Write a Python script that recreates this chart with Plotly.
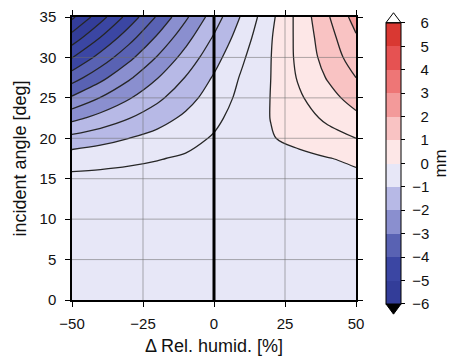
import plotly.graph_objects as go

# Data
delta_rh = [-50, -40, -30, -20, -10, 0, 10, 20, 30, 40, 50]          # Δ Rel. humid. [%]
incident_angle = [0, 5, 10, 12.5, 15, 17.5, 20, 22.5, 25, 27.5, 30, 32.5, 35]  # deg

# displacement [mm] per incident-angle row (columns follow delta_rh)
row_00_0 = [-0.24, -0.23, -0.22, -0.21, -0.20, -0.20, -0.19, -0.18, -0.17, -0.16, -0.15]
row_05_0 = [-0.25, -0.24, -0.23, -0.22, -0.21, -0.20, -0.19, -0.18, -0.17, -0.16, -0.15]
row_10_0 = [-0.28, -0.27, -0.26, -0.25, -0.235, -0.22, -0.21, -0.195, -0.18, -0.165, -0.15]
row_12_5 = [-0.32, -0.31, -0.30, -0.29, -0.27, -0.25, -0.23, -0.21, -0.19, -0.165, -0.14]
row_15_0 = [-0.38, -0.37, -0.35, -0.33, -0.315, -0.30, -0.28, -0.25, -0.21, -0.16, -0.10]
row_17_5 = [-0.72, -0.658, -0.592, -0.522, -0.448, -0.37, -0.288, -0.202, -0.112, -0.018, 0.08]
row_20_0 = [-1.35, -1.178, -1.002, -0.824, -0.644, -0.46, -0.274, -0.03, 0.13, 0.32, 0.50]
row_22_5 = [-2.14, -1.827, -1.517, -1.209, -0.903, -0.60, -0.299, 0.01, 0.295, 0.589, 0.88]
row_25_0 = [-2.93, -2.483, -2.043, -1.611, -1.187, -0.77, -0.361, 0.01, 0.435, 0.821, 1.20]
row_27_5 = [-3.73, -3.148, -2.578, -2.022, -1.48, -0.95, -0.434, 0.0, 0.56, 1.036, 1.50]
row_30_0 = [-4.52, -3.819, -3.135, -2.467, -1.815, -1.18, -0.561, -0.01, 0.627, 1.197, 1.75]
row_32_5 = [-5.31, -4.501, -3.711, -2.939, -2.185, -1.45, -0.733, -0.04, 0.645, 1.307, 1.95]
row_35_0 = [-6.10, -5.198, -4.312, -3.442, -2.588, -1.75, -0.928, -0.122, 0.668, 1.442, 2.20]

z = [row_00_0, row_05_0, row_10_0, row_12_5, row_15_0, row_17_5, row_20_0,
     row_22_5, row_25_0, row_27_5, row_30_0, row_32_5, row_35_0]

x_ticks = [-50, -25, 0, 25, 50]
y_ticks = [0, 5, 10, 15, 20, 25, 30, 35]
cbar_ticks = [-6, -5, -4, -3, -2, -1, 0, 1, 2, 3, 4, 5, 6]

# colour bands, 1 mm each, from -6..-5 up to 5..6
band_colors = ['#333d99', '#3b46a3', '#5962b3', '#8a8fcf', '#b7b9e6', '#e7e7f7',
               '#fde7e7', '#f9c3c3', '#f39a9a', '#ee7676', '#e65252', '#d93832']

cmin, cmax, step = -6.0, 6.0, 0.5
lo, hi = cmin - step / 2, cmax + step / 2
span = hi - lo
scale = []
for k, c in enumerate(band_colors):
    a = 0.0 if k == 0 else (cmin + k - lo) / span
    b = 1.0 if k == len(band_colors) - 1 else (cmin + k + 1 - lo) / span
    scale.append([a, c])
    scale.append([b, c])

# right-aligned looking colour bar labels (figure space pads the missing minus)
cbar_text = ['\u00a0' + ('\u2212' + str(-t) if t < 0 else '\u2007' + str(t)) for t in cbar_ticks]

font_fam = 'Liberation Sans, Arial, sans-serif'

fig = go.Figure()
# filled bands (no lines, so the colour bar has no separators)
fig.add_trace(go.Contour(
    x=delta_rh, y=incident_angle, z=z,
    zmin=cmin, zmax=cmax,
    autocontour=False,
    contours=dict(start=cmin, end=cmax, size=step, coloring='fill', showlines=False),
    line=dict(width=0, smoothing=1.0),
    colorscale=scale,
    colorbar=dict(
        x=1.106, xanchor='left', xpad=0,
        y=0.4827, yanchor='middle', ypad=0,
        lenmode='pixels', len=281,
        thicknessmode='pixels', thickness=15,
        outlinewidth=1, outlinecolor='black',
        tickmode='array', tickvals=cbar_ticks, ticktext=cbar_text,
        ticks='outside', ticklen=4, tickcolor='black',
        tickfont=dict(family=font_fam, size=15, color='#111'),
        title=dict(text='mm', side='right', font=dict(family=font_fam, size=17, color='#111')),
    ),
    showscale=True,
    hoverinfo='skip',
))
# contour lines
fig.add_trace(go.Contour(
    x=delta_rh, y=incident_angle, z=z,
    autocontour=False,
    contours=dict(start=cmin, end=cmax, size=step, coloring='none', showlines=True),
    line=dict(color='#262626', width=1.3, smoothing=1.0),
    showscale=False,
))

# grid lines above the fill
grid_style = dict(color='rgba(110,110,110,0.55)', width=1)
for v in x_ticks[1:-1]:
    fig.add_shape(type='line', xref='x', yref='paper', x0=v, x1=v, y0=0, y1=1,
                  line=grid_style, layer='above')
for v in y_ticks[1:-1]:
    fig.add_shape(type='line', xref='paper', yref='y', x0=0, x1=1, y0=v, y1=v,
                  line=grid_style, layer='above')
# thick zero line
fig.add_shape(type='line', xref='x', yref='paper', x0=0, x1=0, y0=0, y1=1,
              line=dict(color='black', width=3), layer='above')

# colorbar extension triangles
bx0, bx1 = 1.1056, 1.1585
bm = (bx0 + bx1) / 2
fig.add_shape(type='path', xref='paper', yref='paper',
              path=f'M {bx0},0.980 L {bm},1.015 L {bx1},0.980 Z',
              fillcolor='white', line=dict(color='black', width=1))
fig.add_shape(type='path', xref='paper', yref='paper',
              path=f'M {bx0},-0.014 L {bm},-0.050 L {bx1},-0.014 Z',
              fillcolor='black', line=dict(color='black', width=1))

axis_font = dict(family=font_fam, size=15, color='#111')
title_font = dict(family=font_fam, size=18, color='#111')

fig.update_xaxes(range=[-50, 50], tickmode='array', tickvals=x_ticks,
                 ticks='outside', ticklen=5, tickcolor='black',
                 showline=True, linecolor='black', linewidth=1.5, mirror='ticks',
                 showgrid=False, zeroline=False, tickfont=axis_font,
                 ticklabelstandoff=4,
                 title=dict(text='Δ Rel. humid. [%]', font=title_font, standoff=9))
fig.update_yaxes(range=[0, 35], tickmode='array', tickvals=y_ticks,
                 ticks='outside', ticklen=5, tickcolor='black',
                 showline=True, linecolor='black', linewidth=1.5, mirror='ticks',
                 showgrid=False, zeroline=False, tickfont=axis_font,
                 ticklabelstandoff=6,
                 title=dict(text='incident angle [deg]', font=title_font, standoff=8))

fig.update_layout(
    width=457, height=360,
    margin=dict(l=72, r=101, t=17, b=60, autoexpand=False),
    paper_bgcolor='white', plot_bgcolor='white',
    showlegend=False,
)

fig.write_html("out.html")
